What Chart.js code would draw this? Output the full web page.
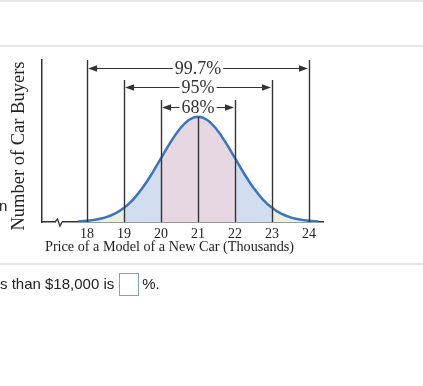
<!DOCTYPE html>
<html>
<head>
<meta charset="utf-8">
<script src="https://cdn.jsdelivr.net/npm/chart.js@4.4.1/dist/chart.umd.min.js"></script>
<style>
  html, body { margin: 0; padding: 0; background: #fff; }
  body { width: 423px; height: 386px; position: relative; overflow: hidden; font-family: "Liberation Sans", Arial, sans-serif; }
  #c { position: absolute; left: 0; top: 0; }
  .hr { position: absolute; left: 0; width: 423px; height: 2px; background: #e6e6ea; }
  .frag { position: absolute; font-size: 15px; color: #222; white-space: nowrap; }
  .box { display: inline-block; width: 18px; height: 21px; border: 1.5px solid #7ea3bd; vertical-align: middle; margin: 0 3px 0 5px; position: relative; top: -1px; }
</style>
</head>
<body>
<div class="hr" style="top:0px;"></div>
<div class="hr" style="top:45px;"></div>
<div class="hr" style="top:263px;"></div>
<canvas id="c" width="423" height="386"></canvas>
<div class="frag" style="left:-1px; top:197px;">n</div>
<div class="frag" style="left:0px; top:274px;">s than $18,000 is<span class="box"></span>%.</div>
<script>
// ---- data ----
const xValues = [17.75, 18, 18.25, 18.5, 18.75, 19, 19.25, 19.5, 19.75, 20, 20.25, 20.5, 20.75, 21,
                 21.25, 21.5, 21.75, 22, 22.25, 22.5, 22.75, 23, 23.25, 23.5, 23.75, 24, 24.25];
const yValues = [0.5, 1.1, 2.3, 4.4, 7.9, 13.5, 21.6, 32.5, 45.8, 60.7, 75.5, 88.2, 96.9, 100,
                 96.9, 88.2, 75.5, 60.7, 45.8, 32.5, 21.6, 13.5, 7.9, 4.4, 2.3, 1.1, 0.5];
const tickLabels = [18, 19, 20, 21, 22, 23, 24];
const ruleLabels = ['99.7%', '95%', '68%'];
const ruleBounds = [[18, 24], [19, 23], [20, 22]];
const ruleLevels = [146, 128, 109];      // height of each arrow (y units)
const lineTops = [154, 135, 116];        // top of the vertical lines for each band
const xTitle = 'Price of a Model of a New Car (Thousands)';
const yTitle = 'Number of Car Buyers';

const bandColors = ['#e7f1de', '#d3ddf0', '#e6d7e2'];
const SERIF = '"Liberation Serif", "Times New Roman", serif';

function bandColor(x0, x1) {
  for (let i = ruleBounds.length - 1; i >= 0; i--) {
    const [a, b] = ruleBounds[i];
    if (x0 >= a - 1e-9 && x1 <= b + 1e-9) return bandColors[i];
  }
  return 'rgba(255,255,255,0)';
}

const decor = {
  id: 'decor',
  afterDatasetsDraw(chart) {
    const ctx = chart.ctx, xs = chart.scales.x, ys = chart.scales.y;
    const y0 = ys.getPixelForValue(0);
    ctx.save();
    ctx.strokeStyle = '#333';
    ctx.lineWidth = 1.4;
    // vertical lines
    ruleBounds.forEach((b, i) => {
      b.forEach(v => {
        const px = Math.round(xs.getPixelForValue(v)) + 0.5;
        ctx.beginPath();
        ctx.moveTo(px, ys.getPixelForValue(lineTops[i]));
        ctx.lineTo(px, y0);
        ctx.stroke();
      });
    });
    // centre line up to the peak
    const ci = yValues.indexOf(Math.max(...yValues));
    const cx = Math.round(xs.getPixelForValue(xValues[ci])) + 0.5;
    ctx.beginPath();
    ctx.moveTo(cx, ys.getPixelForValue(yValues[ci]));
    ctx.lineTo(cx, y0);
    ctx.stroke();

    // arrows with labels
    ctx.font = '18px ' + SERIF;
    ctx.textAlign = 'center';
    ctx.textBaseline = 'middle';
    ctx.fillStyle = '#333';
    ctx.lineWidth = 1;
    ruleBounds.forEach((b, i) => {
      const xl = xs.getPixelForValue(b[0]) + 1, xr = xs.getPixelForValue(b[1]) - 1;
      const py = Math.round(ys.getPixelForValue(ruleLevels[i])) + 0.5;
      const mid = (xl + xr) / 2;
      const w = ctx.measureText(ruleLabels[i]).width / 2 + 2;
      ctx.beginPath();
      ctx.moveTo(xl + 4, py); ctx.lineTo(mid - w, py);
      ctx.moveTo(mid + w, py); ctx.lineTo(xr - 4, py);
      ctx.stroke();
      // arrowheads
      ctx.beginPath();
      ctx.moveTo(xl, py); ctx.lineTo(xl + 9, py - 3.2); ctx.lineTo(xl + 9, py + 3.2); ctx.closePath();
      ctx.moveTo(xr, py); ctx.lineTo(xr - 9, py - 3.2); ctx.lineTo(xr - 9, py + 3.2); ctx.closePath();
      ctx.fill();
      ctx.fillText(ruleLabels[i], mid, py + 0.5);
    });

    // axis break mark
    const bx = chart.chartArea.left + 16;
    ctx.fillStyle = '#fff';
    ctx.fillRect(bx - 2, y0 - 2, 6, 4);
    ctx.beginPath();
    ctx.lineWidth = 1.3;
    ctx.moveTo(bx - 3, y0);
    ctx.lineTo(bx - 0.5, y0 - 3);
    ctx.lineTo(bx + 2, y0 + 4);
    ctx.lineTo(bx + 4, y0);
    ctx.stroke();

    // titles
    ctx.fillStyle = '#222';
    ctx.font = '14.2px ' + SERIF;
    ctx.textAlign = 'left';
    ctx.textBaseline = 'middle';
    ctx.fillText(xTitle, 45, 247);
    ctx.save();
    ctx.translate(19, 146);
    ctx.rotate(-Math.PI / 2);
    ctx.font = '18.5px ' + SERIF;
    ctx.textAlign = 'center';
    ctx.fillText(yTitle, 0, 0);
    ctx.restore();
    ctx.restore();
  }
};

new Chart(document.getElementById('c'), {
  type: 'line',
  data: {
    datasets: [{
      data: xValues.map((x, i) => ({ x, y: yValues[i] })),
      borderColor: '#3c74b9',
      borderWidth: 2.5,
      pointRadius: 0,
      tension: 0.4,
      fill: 'origin',
      backgroundColor: 'rgba(255,255,255,0)',
      segment: {
        backgroundColor: c => bandColor(c.p0.parsed.x, c.p1.parsed.x)
      }
    }]
  },
  options: {
    responsive: false,
    animation: false,
    devicePixelRatio: 1,
    layout: { padding: { left: 42, top: 60, right: 100, bottom: 0 } },
    plugins: { legend: { display: false }, tooltip: { enabled: false } },
    scales: {
      x: {
        type: 'linear', min: 16.78, max: 24.38,
        grid: { display: false, drawTicks: false },
        border: { display: true, color: '#333', width: 1.5 },
        ticks: { font: { family: SERIF, size: 14 }, color: '#222', padding: 4, maxRotation: 0, autoSkip: false },
        afterBuildTicks: s => { s.ticks = tickLabels.map(v => ({ value: v })); },
        afterFit: s => { s.height = 164; }
      },
      y: {
        min: 0, max: 154,
        grid: { display: false, drawTicks: false },
        border: { display: true, color: '#333', width: 1.5 },
        ticks: { display: false },
        afterFit: s => { s.width = 0; }
      }
    }
  },
  plugins: [decor]
});
</script>
</body>
</html>
